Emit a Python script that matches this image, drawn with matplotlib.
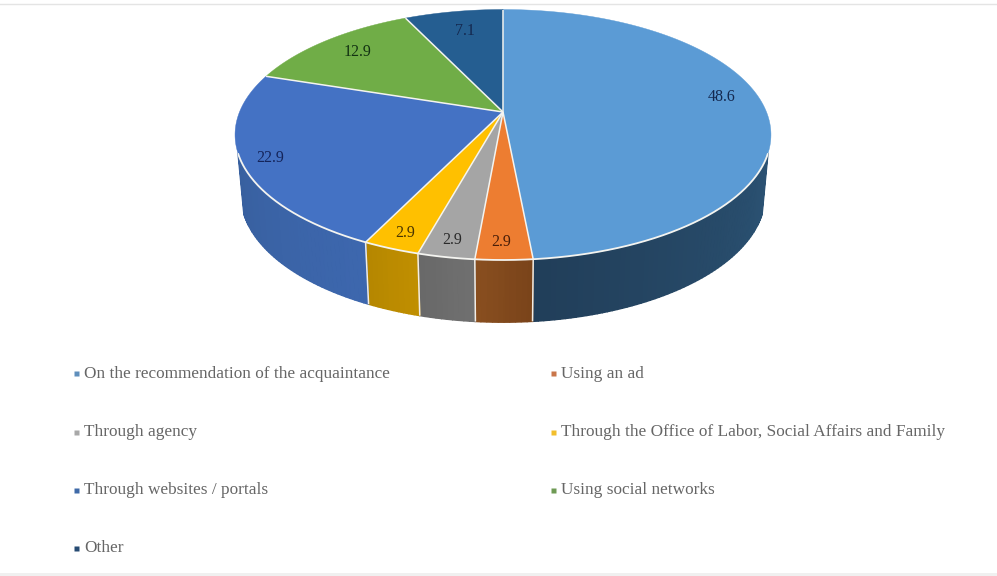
import numpy as np
import matplotlib
matplotlib.use("Agg")
import matplotlib.pyplot as plt
from matplotlib.colors import to_rgb
from matplotlib.patches import Polygon

# valores de cada categoria, en sentido horario desde las 12
categories = [
    "On the recommendation of the acquaintance",
    "Using an ad",
    "Through agency",
    "Through the Office of Labor, Social Affairs and Family",
    "Through websites / portals",
    "Using social networks",
    "Other",
]
values = [48.6, 2.9, 2.9, 2.9, 22.9, 12.9, 7.1]
value_labels = ["48.6", "2.9", "2.9", "2.9", "22.9", "12.9", "7.1"]

top_colors = ["#5B9BD5", "#ED7D31", "#A5A5A5", "#FFC000", "#4472C4", "#70AD47", "#255E91"]
side_start = ["#2B5273", "#8A4F20", "#707070", "#C08F00", "#3D67AE", "#4F7A32", "#1B4368"]
side_end = ["#213E59", "#7A441A", "#686868", "#B58600", "#38609F", "#4F7A32", "#1B4368"]
legend_colors = ["#5F8FBC", "#C9764A", "#A8A8A8", "#F2BE2C", "#3F6AA8", "#6F9A55", "#264B73"]
label_colors = ["#14284F", "#4A1E08", "#2A2A2A", "#4A3500", "#14245A", "#123212", "#14284F"]
label_radius = [0.83, 0.89, 0.89, 0.89, 0.9, 0.82, 0.85]
label_shift = [(2, -10), (-3, 1), (-1, 2), (0, 2), (0, 1), (2, 0), (5, 6)]

# centro y perspectiva del disco superior, en pixeles
CX, CY = 503, 112
A, B, P = 263.5, 121.1, 0.1817
DEPTH = 60
SHRINK = 0.978
EDGE = "#F4F4F0"


def top_point(angle, r=1.0):
    u = r * np.sin(angle)
    v = r * np.cos(angle)
    den = 1 + P * v
    return CX + A * u / den, CY - B * v / den


def bottom_point(angle):
    x, y = top_point(angle)
    return CX + SHRINK * (x - CX), y + DEPTH + 0.015 * (y - CY)


def mix(c1, c2, t):
    c1, c2 = np.array(to_rgb(c1)), np.array(to_rgb(c2))
    return tuple(c1 + (c2 - c1) * t)


fig = plt.figure(figsize=(9.97, 5.76), dpi=100)
ax = fig.add_axes([0, 0, 1, 1])
ax.set_xlim(0, 997)
ax.set_ylim(576, 0)
ax.axis("off")

# bordes del recuadro
ax.plot([0, 997], [4, 4], color="#E4E4E4", lw=1)
ax.fill_between([0, 997], 573, 576, color="#F0F0F0", lw=0)

total = sum(values)
edges = 2 * np.pi * np.cumsum([0] + values) / total
vis_a, vis_b = np.radians(108.7), np.radians(251.3)

# pared lateral: base lisa y encima tiras para el degradado
for i in range(len(values)):
    a0, a1 = max(edges[i], vis_a), min(edges[i + 1], vis_b)
    if a1 <= a0:
        continue
    steps = max(int(np.degrees(a1 - a0)), 2)
    grid = np.linspace(a0, a1, steps + 1)
    xt, yt = top_point(grid)
    xb, yb = bottom_point(grid)
    base = np.column_stack([np.r_[xt, xb[::-1]], np.r_[yt, yb[::-1]]])
    ax.add_patch(Polygon(base, closed=True, facecolor=mix(side_start[i], side_end[i], 0.5), lw=0))
    for j in range(steps):
        t = j / steps
        if a0 > np.pi:
            t = 1 - t
        quad = [(xt[j], yt[j]), (xt[j + 1], yt[j + 1]), (xb[j + 1], yb[j + 1]), (xb[j], yb[j])]
        color = mix(side_start[i], side_end[i], t) if i == 0 else mix(side_end[i], side_start[i], t)
        ax.add_patch(Polygon(quad, closed=True, facecolor=color, edgecolor=color, lw=1.0))

# separadores blancos de la pared
for e in edges:
    if vis_a < e < vis_b:
        x0, y0 = top_point(e)
        x1, y1 = bottom_point(e)
        ax.plot([x0, x1], [y0, y1], color="#F2EDE6", lw=1.1, solid_capstyle="butt")

# disco superior, sin contorno en el arco trasero
for i in range(len(values)):
    theta = np.linspace(edges[i], edges[i + 1], 200)
    xs, ys = top_point(theta)
    pts = np.column_stack([np.r_[CX, xs], np.r_[CY, ys]])
    ax.add_patch(Polygon(pts, closed=True, facecolor=top_colors[i], edgecolor=top_colors[i], lw=0.3))

for e in edges[:-1]:
    x0, y0 = top_point(e)
    ax.plot([CX, x0], [CY, y0], color=EDGE, lw=1.1, solid_capstyle="butt")

front = np.linspace(vis_a, vis_b, 300)
xf, yf = top_point(front)
ax.plot(xf, yf, color=EDGE, lw=1.3, solid_capstyle="butt")

# etiquetas de valor
for i, lab in enumerate(value_labels):
    mid = (edges[i] + edges[i + 1]) / 2
    x, y = top_point(mid, label_radius[i])
    ax.text(x + label_shift[i][0], y + label_shift[i][1], lab, ha="center", va="center",
            fontsize=11.5, family="Liberation Serif", color=label_colors[i])

# leyenda en dos columnas
col_x = [76, 552.5]
row_y = [373, 432, 490, 548]
for i, cat in enumerate(categories):
    mx = col_x[i % 2]
    my = row_y[i // 2]
    ax.plot([mx], [my], marker="s", ms=3.6, color=legend_colors[i], mec="none")
    ax.text(mx + 8, my + 0.5, cat, ha="left", va="center", fontsize=12.4, family="Liberation Serif", color="#666666")

fig.savefig("out.png", dpi=100, facecolor="white")
